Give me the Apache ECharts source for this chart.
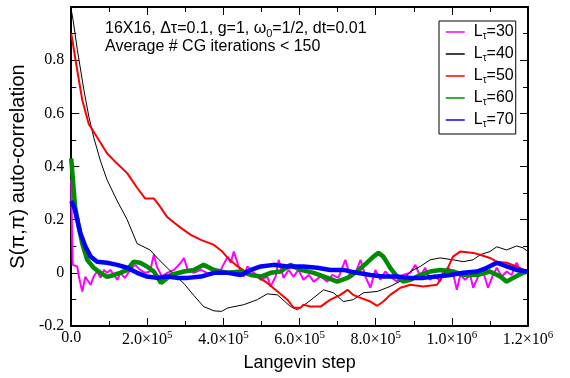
<!DOCTYPE html>
<html><head><meta charset="utf-8">
<script src="https://cdn.jsdelivr.net/npm/echarts@6/dist/echarts.min.js"></script>
<style>html,body{margin:0;padding:0;background:#fff}#c{width:570px;height:378px}</style>
</head><body><div id="c"></div>
<script>
// ---- data (x = Langevin step, y = auto-correlation) ----
const seriesNames = ['30', '40', '50', '60', '70'];

const x30 = [0,2000,4000,16000,20000,29000,37000,42000,51000,59000,68000,77000,86000,94000,103000,112000,121000,129000,141000,155000,168000,181000,194000,207000,217000,225000,238000,252000,270000,288000,296000,306000,322000,341000,367000,393000,411000,419000,427000,440000,453000,463000,479000,498000,515000,524000,537000,545000,558000,571000,584000,597000,610000,624000,637000,655000,673000,686000,702000,720000,734000,747000,760000,773000,786000,799000,812000,825000,838000,856000,872000,891000,904000,917000,930000,943000,956000,969000,977000,990000,1003000,1013000,1022000,1035000,1048000,1056000,1069000,1082000,1095000,1108000,1118000,1131000,1144000,1157000,1170000,1183000,1197000];
const y30 = [0.35,0.15,0.03,0.024,-0.014,-0.07,-0.015,-0.026,-0.045,-0.014,0.005,-0.019,0.011,0,0.011,-0.008,-0.026,0,-0.019,0.011,0.03,0.011,0,0.005,0.068,0.024,-0.014,0,0.011,0.038,0.056,0.011,0,0.011,-0.008,0.011,0.061,0.038,0.08,0.024,-0.014,0.024,0,-0.026,-0.014,-0.051,-0.014,0.049,-0.019,0.011,-0.014,0.011,-0.026,-0.008,-0.033,-0.014,-0.033,-0.008,-0.019,0.049,-0.019,0,0.049,-0.014,-0.056,0.011,-0.026,0.005,-0.014,-0.033,-0.008,0,0.03,-0.014,0.019,-0.026,-0.008,-0.033,0.005,0.019,0,-0.064,-0.008,-0.026,-0.008,-0.056,-0.014,0.005,-0.056,-0.008,0.019,-0.014,0.005,-0.008,0.038,0,0.011];

const x40 = [0,5000,16000,33000,46000,59000,77000,94000,121000,147000,173000,207000,230000,262000,296000,322000,348000,375000,395000,411000,453000,489000,515000,542000,576000,594000,620000,663000,689000,715000,741000,768000,804000,838000,872000,891000,917000,943000,969000,1003000,1030000,1056000,1074000,1100000,1118000,1144000,1170000,1187000,1200000];
const y40 = [0.99,0.95,0.84,0.69,0.59,0.51,0.42,0.35,0.27,0.20,0.11,0.086,0.05,0.005,-0.04,-0.085,-0.127,-0.143,-0.145,-0.132,-0.12,-0.101,-0.079,-0.083,-0.127,-0.139,-0.113,-0.064,-0.075,-0.108,-0.101,-0.075,-0.07,-0.051,-0.026,0.005,0.024,0.049,0.056,0.049,0.042,0.049,0.068,0.08,0.098,0.086,0.101,0.094,0.08];

const x50 = [0,3000,16000,29000,46000,68000,94000,121000,147000,173000,194000,217000,233000,252000,269000,288000,314000,341000,375000,397000,411000,437000,463000,489000,515000,542000,568000,584000,603000,610000,629000,655000,681000,707000,726000,741000,760000,786000,804000,820000,838000,865000,891000,925000,961000,987000,1003000,1022000,1056000,1074000,1100000,1118000,1144000,1170000,1197000];
const y50 = [0.90,0.875,0.76,0.65,0.56,0.51,0.45,0.41,0.375,0.32,0.28,0.28,0.25,0.21,0.19,0.169,0.143,0.124,0.105,0.08,0.056,0.024,0,-0.014,-0.038,-0.07,-0.101,-0.131,-0.131,-0.12,-0.127,-0.127,-0.101,-0.083,-0.064,-0.083,-0.094,-0.108,-0.124,-0.108,-0.083,-0.056,-0.045,-0.051,-0.045,0.011,0.061,0.08,0.075,0.068,0.056,0.042,0.038,0.024,0.005];

const x60 = [0,10000,20000,29000,42000,59000,77000,94000,112000,129000,147000,164000,181000,199000,217000,236000,262000,296000,322000,348000,375000,411000,445000,472000,498000,524000,550000,576000,603000,637000,673000,699000,726000,751000,777000,794000,807000,820000,838000,856000,872000,891000,917000,943000,969000,1003000,1030000,1066000,1100000,1127000,1144000,1161000,1187000,1197000];
const y60 = [0.43,0.25,0.17,0.11,0.049,0.019,0,-0.015,-0.008,0,0.011,0.042,0.038,0.024,0.005,-0.038,-0.008,0.005,0.011,0.03,0.011,0,0.005,-0.008,-0.014,0,0.005,0.03,0.011,0,-0.019,-0.033,-0.019,0.005,0.038,0.061,0.075,0.061,0.019,-0.014,-0.033,-0.026,-0.008,0.005,0.011,0.005,-0.008,-0.008,0.005,-0.014,-0.033,-0.019,0,0.005];

const x70 = [0,7000,16000,24000,37000,51000,68000,94000,121000,147000,173000,199000,225000,252000,278000,306000,341000,375000,411000,445000,472000,498000,532000,568000,610000,646000,681000,715000,751000,786000,820000,856000,891000,925000,961000,996000,1030000,1066000,1092000,1118000,1144000,1170000,1197000];
const y70 = [0.27,0.25,0.2,0.15,0.1,0.061,0.042,0.038,0.03,0.019,0,-0.014,-0.019,-0.014,-0.019,-0.019,-0.014,0,0,-0.008,0.011,0.024,0.03,0.024,0.024,0.019,0.011,0.011,0,-0.008,-0.014,-0.014,-0.019,-0.019,-0.014,-0.008,0,0.005,0.019,0.038,0.024,0.011,0.005];

const colors = ['#ff00ff', '#000000', '#ff0000', '#008b00', '#0000ff'];
const widths = [2, 1, 2, 4.5, 4.5];
const xsAll = [x30, x40, x50, x60, x70];
const ysAll = [y30, y40, y50, y60, y70];

const yTickLabels = { '-0.2': '-0.2', '0': '0', '0.2': '0.2', '0.4': '0.4', '0.6': '0.6', '0.8': '0.8', '1': '' };

const chart = echarts.init(document.getElementById('c'), null, { renderer: 'canvas' });
const serif = 'Liberation Serif';
const sans = 'Liberation Sans';

const xAxisCommon = {
  type: 'value', min: 0, max: 1200000, interval: 200000,
  axisLine: { show: true, onZero: false, lineStyle: { color: '#000', width: 2 } },
  axisTick: { show: true, inside: true, length: 8, lineStyle: { color: '#000', width: 1 } },
  minorTick: { show: true, splitNumber: 2, length: 5, lineStyle: { color: '#000', width: 1 } },
  splitLine: { show: false }, minorSplitLine: { show: false }
};
const yAxisCommon = {
  type: 'value', min: -0.2, max: 1.0, interval: 0.2,
  axisLine: { show: true, onZero: false, lineStyle: { color: '#000', width: 2 } },
  axisTick: { show: true, inside: true, length: 8, lineStyle: { color: '#000', width: 1 } },
  minorTick: { show: true, splitNumber: 2, length: 5, lineStyle: { color: '#000', width: 1 } },
  splitLine: { show: false }, minorSplitLine: { show: false }
};

chart.setOption({
  animation: false,
  backgroundColor: '#fff',
  grid: { left: 70, right: 42, top: 7, bottom: 52 },
  xAxis: [
    Object.assign({}, xAxisCommon, {
      position: 'bottom',
      name: 'Langevin step', nameLocation: 'middle', nameGap: 28,
      nameTextStyle: { fontFamily: sans, fontSize: 18, color: '#000' },
      axisLabel: {
        margin: 4,
        formatter: function (v) {
          if (v === 0) return '{n|0.0}';
          const e = v >= 1000000 ? 6 : 5;
          const m = (v / Math.pow(10, e)).toFixed(1);
          return '{n|' + m + '×10}{p|' + e + '}';
        },
        rich: {
          n: { fontFamily: serif, fontSize: 16, color: '#000' },
          p: { fontFamily: serif, fontSize: 11, color: '#000', padding: [0, 0, 9, 0] }
        }
      }
    }),
    Object.assign({}, xAxisCommon, { position: 'top', axisLabel: { show: false } })
  ],
  yAxis: [
    Object.assign({}, yAxisCommon, {
      position: 'left',
      name: 'S(π,π) auto-correlation', nameLocation: 'middle', nameGap: 37,
      nameTextStyle: { fontFamily: sans, fontSize: 20, color: '#000' },
      axisLabel: {
        margin: 7, fontFamily: serif, fontSize: 16, color: '#000',
        formatter: function (v) { const k = String(Math.round(v * 10) / 10); return (k in yTickLabels) ? yTickLabels[k] : k; }
      }
    }),
    Object.assign({}, yAxisCommon, { position: 'right', axisLabel: { show: false } })
  ],
  legend: {
    orient: 'vertical', left: 439, top: 21,
    borderColor: '#000', borderWidth: 1, borderRadius: 0,
    padding: [3, 2, 5, 6], itemGap: 5, itemWidth: 19, itemHeight: 14,
    lineStyle: { width: 1.5 },
    itemStyle: { opacity: 0 },
    backgroundColor: '#fff',
    formatter: function (name) { return '{a|L}{s|τ}{b|=' + name + '}'; },
    textStyle: {
      rich: {
        a: { fontFamily: sans, fontSize: 16, color: '#000', lineHeight: 18, padding: [0, 0, 0, 4] },
        s: { fontFamily: sans, fontSize: 10, color: '#000', lineHeight: 10, verticalAlign: 'bottom' },
        b: { fontFamily: sans, fontSize: 16, color: '#000', lineHeight: 18 }
      }
    },
    data: seriesNames
  },
  graphic: [
    {
      type: 'text', left: 105, top: 21, z: 100,
      style: {
        text: '16X16, Δτ=0.1, g=1, ω{sub|0}=1/2, dt=0.01',
        font: '16px "Liberation Sans"', fill: '#000',
        rich: { sub: { fontFamily: sans, fontSize: 11, fill: '#000', padding: [9, 0, 0, 0] } }
      }
    },
    {
      type: 'text', left: 105, top: 39, z: 100,
      style: { text: 'Average # CG iterations < 150', font: '16px "Liberation Sans"', fill: '#000' }
    }
  ],
  series: seriesNames.map(function (nm, i) {
    return {
      name: nm, type: 'line', xAxisIndex: 0, yAxisIndex: 0,
      showSymbol: false, symbol: 'none',
      color: colors[i],
      lineStyle: { color: colors[i], width: widths[i] },
      data: xsAll[i].map(function (x, j) { return [x, ysAll[i][j]]; })
    };
  })
});
</script>
</body></html>
